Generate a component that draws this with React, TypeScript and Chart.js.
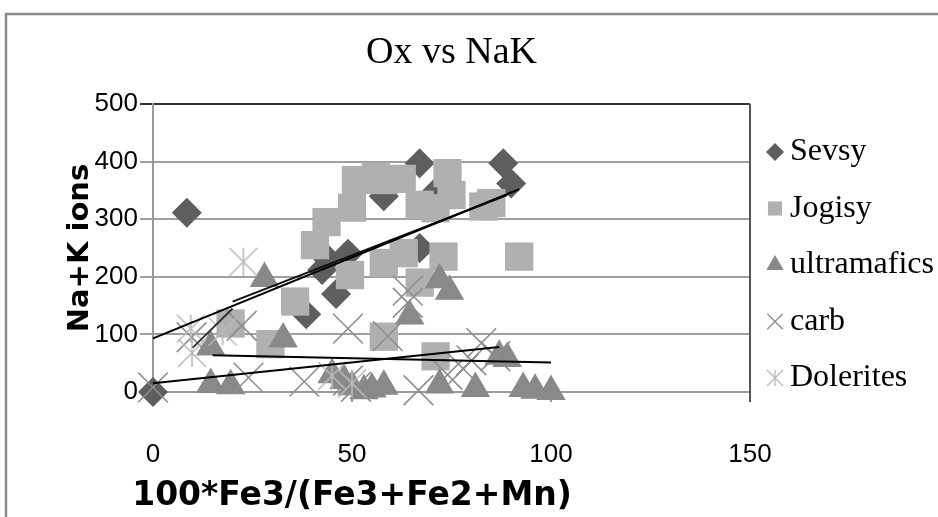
import { useEffect, useRef } from 'react';
import { Chart, registerables } from 'chart.js';
import { drawPoint } from 'chart.js/helpers';

Chart.register(...registerables);

// ---- text ----
const chartTitle = 'Ox vs NaK';
const xAxisTitle = '100*Fe3/(Fe3+Fe2+Mn)';
const yAxisTitle = 'Na+K ions';
const seriesNames = ['Sevsy', 'Jogisy', 'ultramafics', 'carb', 'Dolerites'];

// ---- axes ----
const xMin = 0;
const xMax = 150;
const xStep = 50;
const yMin = 0;
const yMax = 500;
const yStep = 100;

// ---- series values ----
const sevsyX = [0, 8.5, 38.5, 42.5, 44, 46, 49, 58, 67, 67, 71, 88, 90];
const sevsyY = [0, 311, 135, 212, 230, 170, 240, 340, 250, 397, 347, 397, 362];

const jogisyX = [19.5, 29.5, 35.7, 40.7, 43.6, 49.5, 50, 51, 56, 58, 62.5, 58, 58, 63, 67, 67, 71, 71, 73, 74, 75, 83, 85, 92];
const jogisyY = [119, 83, 157, 255, 295, 203, 320, 368, 374, 368, 370, 224, 96, 241, 325, 190, 319, 62, 235, 380, 342, 322, 328, 235];

const ultraX = [14.5, 14.5, 19.5, 28, 32.7, 45, 48, 50, 53, 55, 58, 64.5, 72, 74.5, 72, 81, 87, 89, 93, 96, 100];
const ultraY = [78, 13, 11, 197, 92, 30, 20, 9, 2, 5, 10, 132, 195, 175, 12, 6, 62, 58, 6, 3, 1];

const carbX = [0, 9.7, 22.3, 24, 38, 49, 49, 51, 59, 64, 64, 66.7, 74, 78, 80, 82.5, 86];
const carbY = [8, 95, 115, 25, 18, 110, 20, 9, 97, 176, 155, 3, 30, 40, 55, 85, 62];

const doleritesX = [9.5, 9.8, 17.5, 22.7, 45, 50];
const doleritesY = [110, 68, 105, 226, 28, 15];

// ---- trend lines (two end points each) ----
const trendSevsyX = [0, 92];
const trendSevsyY = [93, 352];
const trendJogisyX = [20, 89];
const trendJogisyY = [157, 342];
const trendUltraX = [15, 100];
const trendUltraY = [64, 51];
const trendCarbX = [0, 87];
const trendCarbY = [15, 78];
const trendDoleritesX = [10, 20];
const trendDoleritesY = [77, 145];

const pts = (xs: number[], ys: number[]) => xs.map((x, i) => ({ x, y: ys[i] }));

function drawAsterisk(ctx: CanvasRenderingContext2D, cx: number, cy: number, half: number) {
  ctx.beginPath();
  ctx.moveTo(cx, cy - half);
  ctx.lineTo(cx, cy + half);
  ctx.moveTo(cx - half, cy - half);
  ctx.lineTo(cx + half, cy + half);
  ctx.moveTo(cx + half, cy - half);
  ctx.lineTo(cx - half, cy + half);
  ctx.stroke();
}

function makeAsteriskImage(half: number, color: string, lw: number) {
  const c = document.createElement('canvas');
  const s = Math.ceil(half * 2 + 4);
  c.width = s;
  c.height = s;
  const g = c.getContext('2d') as CanvasRenderingContext2D;
  g.strokeStyle = color;
  g.lineWidth = lw;
  drawAsterisk(g, s / 2, s / 2, half);
  return c;
}

const COLORS = {
  sevsy: '#5e5e5e',
  jogisy: '#b0b0b0',
  ultra: '#898989',
  carb: '#8e8e8e',
  dolerites: '#bababa',
};

export default function App() {
  const ref = useRef<HTMLCanvasElement>(null);

  useEffect(() => {
    if (!ref.current) return;
    const asteriskImg = makeAsteriskImage(14, COLORS.dolerites, 1.6);

    const legendMarkers = [
      { style: 'rectRot', radius: 9, fill: COLORS.sevsy, stroke: COLORS.sevsy, bw: 0 },
      { style: 'rect', radius: 10, fill: COLORS.jogisy, stroke: COLORS.jogisy, bw: 0 },
      { style: 'triangle', radius: 10, fill: COLORS.ultra, stroke: COLORS.ultra, bw: 0 },
      { style: 'crossRot', radius: 11, fill: COLORS.carb, stroke: COLORS.carb, bw: 1.3 },
      { style: 'asterisk', radius: 8, fill: COLORS.dolerites, stroke: COLORS.dolerites, bw: 1.3 },
    ];

    const framePlugin = {
      id: 'frame',
      beforeDraw(chart: any) {
        const ctx = chart.ctx;
        ctx.save();
        ctx.fillStyle = '#ffffff';
        ctx.fillRect(0, 0, chart.width, chart.height);
        ctx.strokeStyle = '#8a8a8a';
        ctx.lineWidth = 2.5;
        ctx.strokeRect(6, 14, chart.width + 20, chart.height + 20);
        ctx.restore();
      },
      beforeDatasetsDraw(chart: any) {
        const { ctx, chartArea } = chart;
        ctx.save();
        ctx.strokeStyle = '#555555';
        ctx.lineWidth = 2;
        ctx.beginPath();
        ctx.moveTo(chartArea.right, chartArea.top);
        ctx.lineTo(chartArea.right, chartArea.bottom + 10);
        ctx.stroke();
        ctx.restore();
      },
      afterDraw(chart: any) {
        const { ctx, chartArea, scales } = chart;
        ctx.save();
        // x axis title
        ctx.font = 'bold 33px "DejaVu Sans"';
        ctx.fillStyle = '#000';
        ctx.textAlign = 'center';
        ctx.textBaseline = 'middle';
        ctx.fillText(xAxisTitle, scales.x.getPixelForValue(50), 496);
        // legend
        const lx = chartArea.right + 25;
        const ly0 = 152;
        const step = 56.5;
        ctx.font = '32px "Liberation Serif"';
        ctx.textAlign = 'left';
        seriesNames.forEach((name, i) => {
          const y = ly0 + i * step;
          const m = legendMarkers[i];
          ctx.fillStyle = m.fill;
          ctx.strokeStyle = m.stroke;
          ctx.lineWidth = m.bw;
          if (m.style === 'asterisk') {
            drawAsterisk(ctx, lx, y, m.radius);
          } else {
            drawPoint(ctx, { pointStyle: m.style as any, rotation: 0, radius: m.radius, borderWidth: m.bw }, lx, y);
          }
          ctx.fillStyle = '#000';
          ctx.fillText(name, lx + 15, y);
        });
        ctx.restore();
      },
    };

    const trendDs = (xs: number[], ys: number[], color: string) => ({
      type: 'line' as const,
      data: pts(xs, ys),
      showLine: true,
      borderColor: color,
      backgroundColor: color,
      borderWidth: 2,
      pointRadius: 0,
      pointHoverRadius: 0,
      fill: false,
      order: 0,
      clip: false as const,
    });

    const chart = new Chart(ref.current, {
      type: 'scatter',
      data: {
        datasets: [
          {
            label: seriesNames[0],
            data: pts(sevsyX, sevsyY),
            pointStyle: 'rectRot',
            pointRadius: 15,
            backgroundColor: COLORS.sevsy,
            borderColor: COLORS.sevsy,
            pointBorderWidth: 0,
            order: 5,
            clip: false,
          },
          {
            label: seriesNames[1],
            data: pts(jogisyX, jogisyY),
            pointStyle: 'rect',
            pointRadius: 20,
            backgroundColor: COLORS.jogisy,
            borderColor: COLORS.jogisy,
            pointBorderWidth: 0,
            order: 4,
            clip: false,
          },
          {
            label: seriesNames[2],
            data: pts(ultraX, ultraY),
            pointStyle: 'triangle',
            pointRadius: 17,
            backgroundColor: COLORS.ultra,
            borderColor: COLORS.ultra,
            pointBorderWidth: 0,
            order: 3,
            clip: false,
          },
          {
            label: seriesNames[3],
            data: pts(carbX, carbY),
            pointStyle: 'crossRot',
            pointRadius: 21,
            backgroundColor: COLORS.carb,
            borderColor: COLORS.carb,
            pointBorderWidth: 1.6,
            order: 2,
            clip: false,
          },
          {
            label: seriesNames[4],
            data: pts(doleritesX, doleritesY),
            pointStyle: asteriskImg as any,
            pointRadius: 15,
            backgroundColor: COLORS.dolerites,
            borderColor: COLORS.dolerites,
            order: 1,
            clip: false,
          },
          trendDs(trendSevsyX, trendSevsyY, '#000000'),
          trendDs(trendJogisyX, trendJogisyY, '#111111'),
          trendDs(trendUltraX, trendUltraY, '#000000'),
          trendDs(trendCarbX, trendCarbY, '#000000'),
          trendDs(trendDoleritesX, trendDoleritesY, '#333333'),
        ] as any,
      },
      options: {
        responsive: false,
        animation: false,
        devicePixelRatio: 1,
        layout: { padding: { left: 50, top: 0, right: 188, bottom: 0 } },
        plugins: {
          legend: { display: false },
          tooltip: { enabled: false },
          title: {
            display: true,
            text: chartTitle,
            fullSize: false,
            color: '#000',
            font: { family: '"Liberation Serif"', size: 38, weight: 'normal', lineHeight: 1 },
            padding: { top: 34, bottom: 32 },
          },
        },
        scales: {
          x: {
            type: 'linear',
            min: xMin,
            max: xMax,
            afterFit: (s: any) => { s.height = 125; },
            ticks: {
              stepSize: xStep,
              color: '#000',
              padding: 37,
              font: { family: '"Liberation Sans"', size: 26 },
            },
            grid: { drawOnChartArea: false, drawTicks: true, tickLength: 10, color: '#999999', lineWidth: 2 },
            border: { display: true, color: '#999999', width: 2 },
            title: { display: false },
          },
          y: {
            type: 'linear',
            min: yMin,
            max: yMax,
            afterFit: (s: any) => { s.width = 103; },
            ticks: {
              stepSize: yStep,
              color: '#000',
              padding: 2,
              font: { family: '"Liberation Sans"', size: 26 },
            },
            grid: {
              color: (c: any) => (c.tick && c.tick.value === yMax ? '#333333' : '#9f9f9f'),
              lineWidth: 2,
              drawTicks: true,
              tickLength: 13,
            },
            border: { display: true, color: '#999999', width: 2 },
            title: {
              display: true,
              text: yAxisTitle,
              color: '#000',
              font: { family: '"DejaVu Sans"', size: 29, weight: 'bold', lineHeight: 1.2 },
              padding: { top: 13, bottom: 0 },
            },
          },
        },
      },
      plugins: [framePlugin],
    });
    return () => chart.destroy();
  }, []);

  return (
    <div style={{ position: 'fixed', left: 0, top: 0, width: 938, height: 517, background: '#fff', overflow: 'hidden' }}>
      <canvas ref={ref} width={938} height={517} style={{ width: 938, height: 517, display: 'block' }} />
    </div>
  );
}
